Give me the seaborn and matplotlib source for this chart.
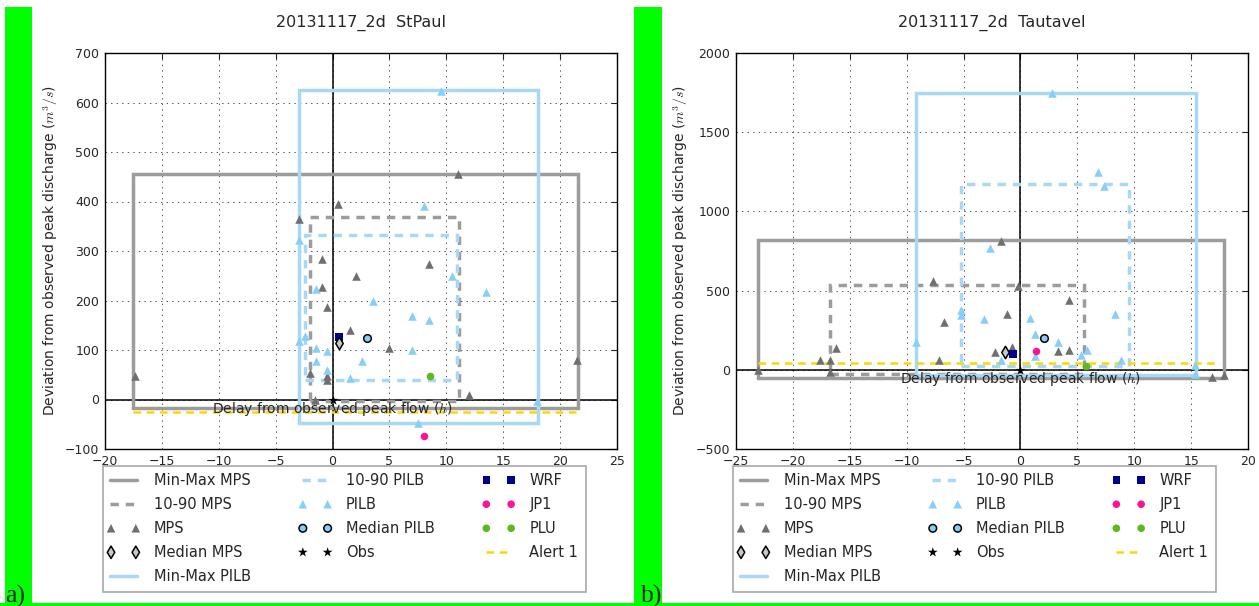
import matplotlib
matplotlib.use("Agg")
import matplotlib.pyplot as plt
import seaborn as sns
from matplotlib.patches import Rectangle
from matplotlib.collections import PathCollection
from matplotlib.lines import Line2D
from matplotlib.legend_handler import HandlerPathCollection, HandlerLine2D

# ---------------- data : panel a) StPaul ----------------
a_title = "20131117_2d  StPaul"
a_mps_x = [-17.4, 21.5, 11.0, 0.5, -2.95, -0.95, 2.05, 8.5, -0.95, -0.45, 1.5, 5.0, -1.95, -0.45, -0.45, 12.0, -1.5]
a_mps_y = [47, 79, 455, 394, 365, 283, 250, 274, 228, 187, 141, 104, 53, 47, 39, 10, -2]
a_pilb_x = [9.5, 8.0, -2.95, 10.5, 13.5, -1.45, 3.55, 7.0, 8.5, -2.95, -2.45, -1.45, -0.45, 7.0, -1.45, 2.55, -0.45, 1.5, 18.0, 7.5]
a_pilb_y = [623, 391, 323, 250, 217, 223, 200, 168, 161, 118, 129, 105, 97, 101, 77, 77, 60, 43, -3, -47]
a_minmax_mps = [-17.5, 21.6, -18, 456]     # xmin, xmax, ymin, ymax
a_q1090_mps = [-2.0, 11.1, -3, 369]
a_minmax_pilb = [-2.96, 18.05, -48, 625]
a_q1090_pilb = [-2.4, 10.9, 40, 332]
a_median_mps = [0.56, 114]
a_median_pilb = [3.03, 125]
a_obs = [0, 0]
a_wrf = [0.56, 126]
a_jp1 = [8.0, -74]
a_plu = [8.56, 48]
a_alert_x = [-17.5, 21.6]
a_alert_y = -25
a_xlim = [-20, 25]
a_ylim = [-100, 700]
a_xticks = [-20, -15, -10, -5, 0, 5, 10, 15, 20, 25]
a_yticks = [-100, 0, 100, 200, 300, 400, 500, 600, 700]

# ---------------- data : panel b) Tautavel ----------------
b_title = "20131117_2d  Tautavel"
b_mps_x = [-23.1, 16.8, 17.9, -1.7, -7.7, -0.2, 4.3, -1.2, -6.7, -16.2, -17.6, -16.7, -16.7, -2.2, -0.7, 3.3, 4.3, -7.2]
b_mps_y = [-4, -46, -32, 816, 558, 531, 442, 350, 300, 137, 63, 63, -17, 110, 144, 117, 122, 59]
b_pilb_x = [2.8, 6.8, 7.35, -2.7, -5.2, -5.2, -3.2, 0.8, 8.3, 1.3, 3.3, -9.2, -1.7, 1.3, 5.3, 5.85, 8.8, 15.35, 15.35]
b_pilb_y = [1747, 1251, 1162, 769, 375, 345, 322, 325, 350, 226, 174, 175, 59, 85, 96, 123, 63, 32, -25]
b_minmax_mps = [-23.1, 17.9, -50, 817]
b_q1090_mps = [-16.7, 5.6, -25, 533]
b_minmax_pilb = [-9.2, 15.4, -30, 1747]
b_q1090_pilb = [-5.2, 9.5, 25, 1173]
b_median_mps = [-1.4, 112]
b_median_pilb = [2.1, 200]
b_obs = [0, 0]
b_wrf = [-0.65, 100]
b_jp1 = [1.35, 117]
b_plu = [5.8, 22]
b_alert_x = [-23.1, 17.5]
b_alert_y = 42
b_xlim = [-25, 20]
b_ylim = [-500, 2000]
b_xticks = [-25, -20, -15, -10, -5, 0, 5, 10, 15, 20]
b_yticks = [-500, 0, 500, 1000, 1500, 2000]

legend_labels = ["Min-Max MPS", "10-90 MPS", "MPS", "Median MPS", "Min-Max PILB",
                 "10-90 PILB", "PILB", "Median PILB", "Obs",
                 "WRF", "JP1", "PLU", "Alert 1"]
xlabel_text = "Delay from observed peak flow ($h$)"
ylabel_text = "Deviation from observed peak discharge ($m^3/s$)"

# ---------------- style ----------------
sns.set_style("white")
plt.rcParams["font.family"] = ["DejaVu Sans"]
plt.rcParams["mathtext.fontset"] = "cm"
plt.rcParams["lines.scale_dashes"] = False

C_MPS_BOX = "#9c9c9c"
C_MPS_PT = "#6f6f6f"
C_PILB_BOX = "#a9d7f6"
C_PILB_PT = "#87cefa"
C_WRF = "#00008b"
C_JP1 = "#ff1493"
C_PLU = "#5cb91e"
C_ALERT = "#ffd700"
DASH = (0, (6, 5))

W, H = 1259, 606
fig = plt.figure(figsize=(W / 100, H / 100), dpi=100)

# green decorations
for x0, w in [(5, 27), (634, 28)]:
    fig.add_artist(Rectangle((x0 / W, 0), w / W, 1 - 7 / H, transform=fig.transFigure,
                             facecolor="#00ff00", edgecolor="none", zorder=-5))
fig.add_artist(Rectangle((0, 0), 1, 3 / H, transform=fig.transFigure,
                         facecolor="#00ff00", edgecolor="none", zorder=-5))


def rect_xy(b):
    x0, x1, y0, y1 = b
    return [x0, x1, x1, x0, x0], [y0, y0, y1, y1, y0]


def draw_panel(ax, title, mps_x, mps_y, pilb_x, pilb_y, mm_mps, q_mps, mm_pilb, q_pilb,
               med_mps, med_pilb, obs, wrf, jp1, plu, alert_x, alert_y,
               xlim, ylim, xticks, yticks, leg_left):
    handles = []
    ax.axhline(0, color="black", lw=1.1, zorder=1)
    ax.axvline(0, color="black", lw=1.1, zorder=1)

    xs, ys = rect_xy(mm_mps)
    sns.lineplot(x=xs, y=ys, sort=False, estimator=None, ax=ax, color=C_MPS_BOX, lw=2.5,
                 solid_joinstyle="miter", zorder=2)
    handles.append(ax.lines[-1])
    xs, ys = rect_xy(q_mps)
    sns.lineplot(x=xs, y=ys, sort=False, estimator=None, ax=ax, color=C_MPS_BOX, lw=2.5,
                 linestyle=DASH, dash_joinstyle="miter", zorder=2)
    handles.append(ax.lines[-1])
    sns.scatterplot(x=mps_x, y=mps_y, ax=ax, marker="^", s=38, color=C_MPS_PT,
                    linewidth=0, zorder=4)
    handles.append(ax.collections[-1])
    sns.scatterplot(x=[med_mps[0]], y=[med_mps[1]], ax=ax, marker="d", s=40, color="#c8c8c8",
                    edgecolor="black", linewidth=1.1, zorder=6)
    handles.append(ax.collections[-1])

    xs, ys = rect_xy(mm_pilb)
    sns.lineplot(x=xs, y=ys, sort=False, estimator=None, ax=ax, color=C_PILB_BOX, lw=2.5,
                 solid_joinstyle="miter", zorder=2)
    handles.append(ax.lines[-1])
    xs, ys = rect_xy(q_pilb)
    sns.lineplot(x=xs, y=ys, sort=False, estimator=None, ax=ax, color=C_PILB_BOX, lw=2.5,
                 linestyle=DASH, dash_joinstyle="miter", zorder=2)
    handles.append(ax.lines[-1])
    sns.scatterplot(x=pilb_x, y=pilb_y, ax=ax, marker="^", s=38, color=C_PILB_PT,
                    linewidth=0, zorder=4)
    handles.append(ax.collections[-1])
    sns.scatterplot(x=[med_pilb[0]], y=[med_pilb[1]], ax=ax, marker="o", s=30, color=C_PILB_PT,
                    edgecolor="black", linewidth=1.1, zorder=6)
    handles.append(ax.collections[-1])
    sns.scatterplot(x=[obs[0]], y=[obs[1]], ax=ax, marker="*", s=55, color="black",
                    linewidth=0, zorder=7)
    handles.append(ax.collections[-1])
    sns.scatterplot(x=[wrf[0]], y=[wrf[1]], ax=ax, marker="s", s=30, color=C_WRF,
                    linewidth=0, zorder=5)
    handles.append(ax.collections[-1])
    sns.scatterplot(x=[jp1[0]], y=[jp1[1]], ax=ax, marker="o", s=30, color=C_JP1,
                    linewidth=0, zorder=5)
    handles.append(ax.collections[-1])
    sns.scatterplot(x=[plu[0]], y=[plu[1]], ax=ax, marker="o", s=30, color=C_PLU,
                    linewidth=0, zorder=5)
    handles.append(ax.collections[-1])
    sns.lineplot(x=alert_x, y=[alert_y, alert_y], sort=False, estimator=None, ax=ax,
                 color=C_ALERT, lw=1.8, linestyle=(0, (5.5, 4)), zorder=3)
    handles.append(ax.lines[-1])

    ax.text(0, 0, xlabel_text, ha="center", va="top", fontsize=10, zorder=8)

    ax.set_xlim(xlim)
    ax.set_ylim(ylim)
    ax.set_xticks(xticks)
    ax.set_yticks(yticks)
    ax.set_xlabel("")
    ax.set_ylabel(ylabel_text, fontsize=10)
    ax.set_title(title, fontsize=11.5, pad=19)
    ax.tick_params(direction="in", top=True, right=True, length=4, width=0.8,
                   labelsize=9, pad=4)
    ax.grid(True, linestyle=(0, (1, 3)), color="#555555", linewidth=0.7)
    ax.set_axisbelow(True)
    for sp in ax.spines.values():
        sp.set_color("black")
        sp.set_linewidth(1.0)

    leg = ax.legend(handles, legend_labels, ncol=3, loc="upper left",
                    bbox_to_anchor=(leg_left / W, 1 - 466 / H), bbox_transform=fig.transFigure,
                    borderaxespad=0, numpoints=2, scatterpoints=2, scatteryoffsets=[0.5],
                    fontsize=10.5,
                    handlelength=1.8, handletextpad=1.2, columnspacing=3.5,
                    labelspacing=0.62, borderpad=0.5, fancybox=False, framealpha=1,
                    edgecolor="#a8a8a8",
                    handler_map={PathCollection: HandlerPathCollection(marker_pad=0.05),
                                 Line2D: HandlerLine2D(marker_pad=0.0)})
    leg.get_frame().set_linewidth(1.2)


ax_bottom = 1 - 449 / H
ax_h = 396 / H
ax1 = fig.add_axes([105 / W, ax_bottom, 512 / W, ax_h])
ax2 = fig.add_axes([736 / W, ax_bottom, 512 / W, ax_h])

draw_panel(ax1, a_title, a_mps_x, a_mps_y, a_pilb_x, a_pilb_y, a_minmax_mps, a_q1090_mps,
           a_minmax_pilb, a_q1090_pilb, a_median_mps, a_median_pilb, a_obs, a_wrf, a_jp1,
           a_plu, a_alert_x, a_alert_y, a_xlim, a_ylim, a_xticks, a_yticks, 103)
draw_panel(ax2, b_title, b_mps_x, b_mps_y, b_pilb_x, b_pilb_y, b_minmax_mps, b_q1090_mps,
           b_minmax_pilb, b_q1090_pilb, b_median_mps, b_median_pilb, b_obs, b_wrf, b_jp1,
           b_plu, b_alert_x, b_alert_y, b_xlim, b_ylim, b_xticks, b_yticks, 733)

fig.text(5 / W, 3 / H, "a)", family=["Liberation Serif", "DejaVu Serif"], fontsize=18.5,
         va="baseline", ha="left")
fig.text(641 / W, 3 / H, "b)", family=["Liberation Serif", "DejaVu Serif"], fontsize=18.5,
         va="baseline", ha="left")

fig.savefig("out.png", dpi=100)
